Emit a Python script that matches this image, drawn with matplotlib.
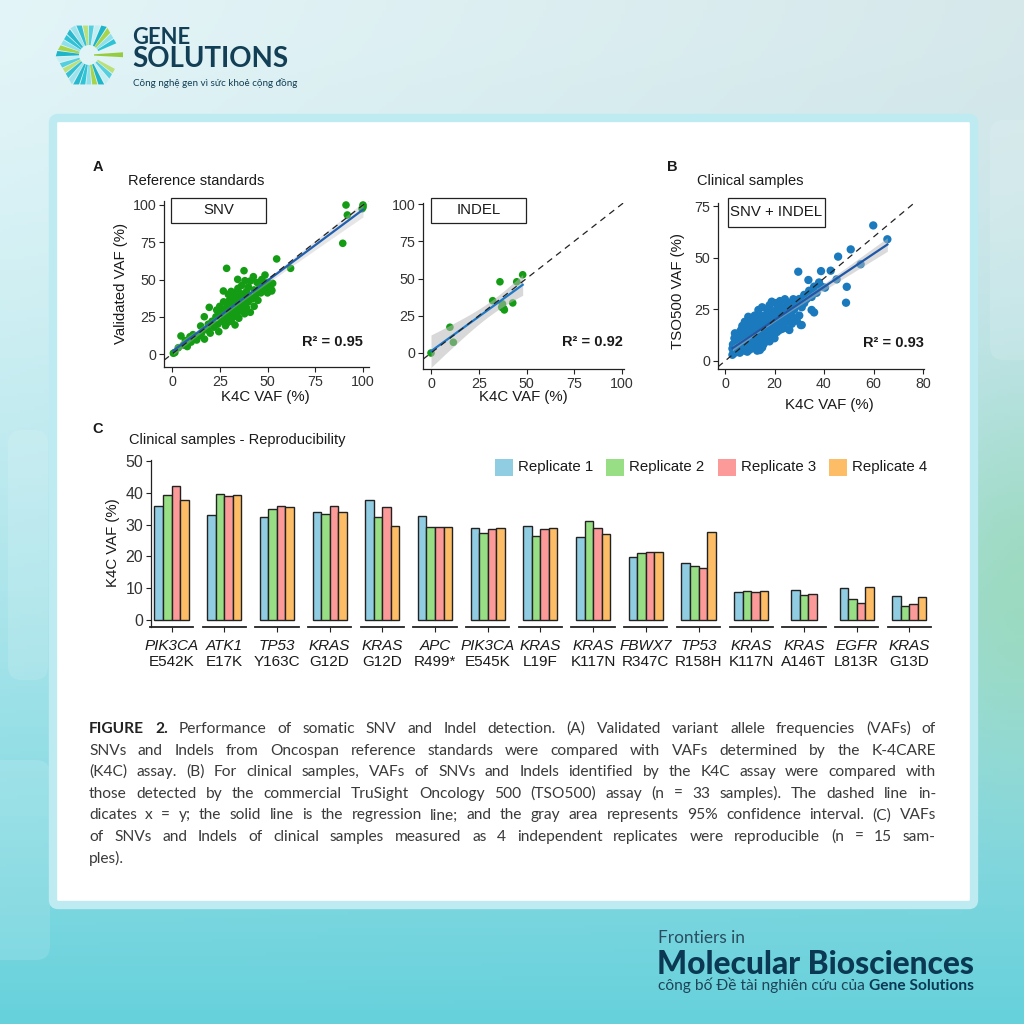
import numpy as np
import matplotlib
matplotlib.use("Agg")
import matplotlib.pyplot as plt
import matplotlib.transforms as mtransforms
from matplotlib.patches import Rectangle, FancyBboxPatch, Polygon
from matplotlib import font_manager
from matplotlib.font_manager import FontProperties

plt.rcParams["font.family"] = ["Liberation Sans", "DejaVu Sans"]

# ---------------- data ----------------
# Panel A - SNV (K4C VAF, validated VAF)
snv_x = [0.7, 1.5, 3.3, 4.7, 6, 7, 8, 9.4, 10, 11, 12.9, 14, 15, 15.5, 16.9, 17, 18.7,
         19.5, 19, 20, 21, 22, 23.4, 23, 24, 24.5, 25, 25, 26, 26.9, 27, 27, 27.5, 28,
         28.6, 28.6, 29, 29, 29.5, 30, 30, 30, 30.5, 31, 31, 31.5, 32, 32, 32.5, 33, 33,
         33, 33.5, 34, 34, 34.4, 34.5, 35, 35, 35, 35.5, 36, 36, 36.5, 37, 37, 37.7, 38,
         38.2, 38.5, 39, 39, 40, 40, 40.5, 41, 41, 42, 42.6, 43, 43, 44, 44.5, 45, 45, 46,
         46.5, 47, 48, 48.7, 49, 50, 50, 51, 52.2, 52.2, 52.7, 54.8, 62.1, 89.4, 91.1,
         91.8, 99.5, 100, 100]
snv_y = [0.5, 1.0, 4.2, 12.1, 6, 9, 5, 11.6, 8, 13, 9.4, 12, 18.8, 14, 25, 10, 16.1,
         31.3, 20, 14, 22, 18, 29.5, 25, 20, 15, 27, 32, 22, 42.3, 30, 35, 25, 19,
         20.6, 57.5, 33, 28, 40, 24, 36, 31, 27, 42, 22, 34, 29, 38, 25, 19.5, 33,
         41, 36, 27, 30, 50.1, 44, 32, 38, 24, 41, 35, 29, 46, 33, 39, 55.9, 27,
         49.2, 37, 42, 31, 35, 45, 39, 28, 49, 37, 51.9, 43, 32, 40, 48, 36, 42, 46,
         41, 50, 44, 53, 47, 41, 48, 45, 43, 42.3, 47.4, 63.8, 57.5, 74.3, 100,
         93.3, 97.5, 100, 98.5]

# Panel A - INDEL
indel_x = [0, 9.9, 11.7, 32.3, 36.1, 37, 37.4, 38.4, 38, 42.8, 44.9, 48]
indel_y = [0, 17.3, 7.2, 35.1, 47.8, 30.7, 33, 28.9, 30, 33.6, 47.8, 52.5]

# Panel B - clinical samples SNV + INDEL
clin_x = [3, 3.5, 4, 4, 4.5, 3.8, 4, 5, 5, 4.2, 5.5, 6, 6, 6, 6.5, 6.5, 7, 7, 7, 5.5,
          7.5, 8, 8, 8, 8, 8.5, 8.5, 9, 9, 9, 9.4, 9.5, 10, 10, 10, 10, 10.5, 11, 11, 11, 11,
          11.5, 12, 12, 12, 12, 12.1, 12.5, 12.5, 13, 13, 13, 13.5, 13.5, 14, 14, 14, 14,
          14.1, 14.5, 15, 15, 15, 15, 15.5, 16, 16, 16, 16.5, 17, 17, 17, 17.5, 18, 18, 18,
          18.9, 19, 19, 19.5, 20, 20, 20, 20.5, 21, 21, 22, 22, 22, 22.2, 23, 23, 24, 24,
          24.2, 24.5, 25, 25.5, 26, 26, 27, 27, 27.6, 28, 28.3, 29, 29, 30, 30.6, 31, 30,
          31, 32, 32, 33, 33.7, 34, 35, 35, 36, 36, 37, 38, 38.8, 39, 40.4, 29.6, 42.7,
          45.1, 45.7, 48.9, 49.2, 50.8, 54.8, 59.9, 65.6,
          3, 3.2, 5, 6.5, 7.5, 9, 10, 11.5, 13, 15, 16, 18, 20, 5, 6, 7, 8, 9, 10, 11, 12,
          13, 14, 15, 16, 17, 18, 19, 20, 21, 22, 23, 24, 25, 26, 27, 28, 20, 21, 23, 18,
          16, 14]
clin_y = [3, 5, 4, 7, 9, 11, 13.4, 6, 5.3, 8.5, 10, 4, 7.5, 12, 15, 9, 6, 11, 17, 13,
          8, 5, 10, 13, 19, 7, 15, 9, 12, 17, 21.4, 6, 8, 11, 14, 18, 10, 6.5, 13, 16, 20,
          9, 7, 11, 15, 22, 6.1, 13, 18, 9, 12, 20, 24.7, 15, 7, 10, 17, 22,
          5.3, 13, 11, 19, 26, 15, 8, 13, 17, 22, 10, 15, 20, 25, 12, 18, 27, 14,
          28.7, 16, 21, 12, 19, 24, 14, 28, 17, 22, 15, 20, 26, 29, 18, 23, 16, 21,
          29.9, 26, 19, 23, 15, 28, 18, 22, 29.9, 25, 19.8, 19.5, 27, 22, 17.4, 17.4, 30,
          26, 28, 32, 30, 39.2, 34, 24.7, 31, 36, 23.5, 33, 38, 43.5, 36, 35.5, 43.2, 43.7,
          39.5, 50.5, 28.2, 35.9, 54, 46.8, 65.6, 58.9,
          6, 8, 9, 5, 13, 4.5, 5.5, 18, 5, 6.5, 9, 9.5, 11, 11.5, 14, 9, 16, 14.5, 16, 11,
          9.5, 16, 12, 17, 15, 18, 21, 24, 17, 25, 23, 26, 24, 27, 21, 26, 28, 21, 14,
          15.5, 24, 19.5, 19]

# Panel C - reproducibility
genes = ["PIK3CA", "ATK1", "TP53", "KRAS", "KRAS", "APC", "PIK3CA", "KRAS", "KRAS",
         "FBWX7", "TP53", "KRAS", "KRAS", "EGFR", "KRAS"]
variants = ["E542K", "E17K", "Y163C", "G12D", "G12D", "R499*", "E545K", "L19F", "K117N",
            "R347C", "R158H", "K117N", "A146T", "L813R", "G13D"]
rep1 = [36.0, 32.9, 32.4, 34.1, 37.8, 32.7, 29.0, 29.6, 26.1, 19.8, 17.9, 8.7, 9.3, 10.0, 7.4]
rep2 = [39.3, 39.5, 35.0, 33.4, 32.3, 29.3, 27.5, 26.3, 31.0, 21.0, 17.0, 9.1, 7.8, 6.5, 4.3]
rep3 = [42.0, 39.1, 36.0, 35.7, 35.4, 29.1, 28.5, 28.7, 28.8, 21.3, 16.4, 8.8, 8.1, 5.3, 4.9]
rep4 = [37.8, 39.2, 35.4, 34.1, 29.7, 29.3, 28.9, 28.8, 26.9, 21.5, 27.7, 9.1, np.nan, 10.4, 7.1]
rep_names = ["Replicate 1", "Replicate 2", "Replicate 3", "Replicate 4"]
rep_colors = ["#90cde2", "#98de84", "#fb9a98", "#fdbd66"]

caption = [
    "FIGURE 2. Performance of somatic SNV and Indel detection. (A) Validated variant allele frequencies (VAFs) of",
    "SNVs and Indels from Oncospan reference standards were compared with VAFs determined by the K-4CARE",
    "(K4C) assay. (B) For clinical samples, VAFs of SNVs and Indels identified by the K4C assay were compared with",
    "those detected by the commercial TruSight Oncology 500 (TSO500) assay (n = 33 samples). The dashed line in-",
    "dicates x = y; the solid line is the regression line; and the gray area represents 95% confidence interval. (C) VAFs",
    "of SNVs and Indels of clinical samples measured as 4 independent replicates were reproducible (n = 15 sam-",
    "ples).",
]

# ---------------- canvas ----------------
W = H = 1024
fig = plt.figure(figsize=(10.24, 10.24), dpi=100)
bg = fig.add_axes([0, 0, 1, 1])
bg.set_xlim(0, W)
bg.set_ylim(H, 0)
bg.axis("off")
renderer = fig.canvas.get_renderer()

yy = np.linspace(0, 1, 300)[:, None]
xx = np.linspace(0, 1, 300)[None, :]
top = np.array([0.89, 0.96, 0.97])
bottom = np.array([0.40, 0.82, 0.86])
t = (yy ** 1.5) * np.ones_like(xx)
img = top * (1 - t)[..., None] + bottom * t[..., None]
img -= 0.05 * (xx * (1 - t))[..., None]
blob = np.exp(-((xx - 1.0) ** 2 / 0.01 + (yy - 0.58) ** 2 / 0.03))
img += blob[..., None] * (np.array([0.60, 0.85, 0.70]) - img) * 0.7
bg.imshow(np.clip(img, 0, 1), extent=[0, W, H, 0], aspect="auto", zorder=0)

# faint decorative shapes
for (x0, y0, w0, h0) in [(8, 430, 40, 250), (-20, 760, 70, 200), (990, 120, 60, 240)]:
    bg.add_patch(FancyBboxPatch((x0, y0), w0, h0, boxstyle="round,pad=0,rounding_size=14",
                                fc="white", ec="none", alpha=0.12, zorder=0.5))

# white card
bg.add_patch(FancyBboxPatch((53, 118), 921, 787, boxstyle="round,pad=0,rounding_size=5",
                            fc="white", ec="#bdebf1", lw=6, zorder=1))


def has_font(name):
    try:
        font_manager.findfont(FontProperties(family=name), fallback_to_default=False)
        return True
    except Exception:
        return False


def measure(s, size, family, weight="normal"):
    tt = bg.text(0, 0, s, fontsize=size, family=family, weight=weight)
    w = tt.get_window_extent(renderer).width
    tt.remove()
    return w


def fit_text(x, y, s, width, size, **kw):
    txt = bg.text(x, y, s, fontsize=size, **kw)
    w = txt.get_window_extent(renderer).width
    txt.set_fontsize(size * width / w)
    return txt


# ---------------- logo ----------------
cx, cy = 89, 55
R_out, R_in = 34, 10
stripe_cols = ["#2fc3d6", "#8fe0ea", "#a6d44a", "#1fb5c9", "#c5eef3", "#54cfdf", "#b9e07a",
               "#35bfd3", "#9ee3ec", "#2ab8cc"]
angles = np.arange(28, 332, 11.5)
for k, a in enumerate(angles):
    pts = []
    for da, rr in [(-4.8, "in"), (4.8, "in"), (4.8, "out"), (-4.8, "out")]:
        ang = np.deg2rad(a + da)
        if rr == "out":
            m = (a + da) % 60 - 30
            r = R_out * np.cos(np.deg2rad(30)) / np.cos(np.deg2rad(m))
        else:
            r = R_in
        pts.append((cx + r * np.cos(ang), cy - r * np.sin(ang)))
    bg.add_patch(Polygon(pts, closed=True, fc=stripe_cols[k % len(stripe_cols)], ec="none", zorder=2))
bg.add_patch(Polygon([(94, 54.3), (123, 52.3), (123, 57.2), (94, 55.6)], closed=True,
                     fc="#96cc3e", ec="none", zorder=2))

navy = "#123f55"
lato = ["Lato", "DejaVu Sans"]
fit_text(132, 43.5, "GENE", 58, 17, family=lato, weight="bold", color=navy,
         va="baseline", zorder=3)
fit_text(132, 67, "SOLUTIONS", 156, 17, family=lato, weight="bold", color=navy,
         va="baseline", zorder=3)
bg.text(133, 86, "Công nghệ gen vì sức khoẻ cộng đồng", fontsize=7.1,
        family=lato, color=navy, va="baseline", zorder=3)

# ---------------- footer ----------------
fit_text(658, 943, "Frontiers in", 87, 11, family=lato, color="#2a4d60",
         va="baseline", zorder=3)
fit_text(657, 973.5, "Molecular Biosciences", 318, 20, family=lato, weight="black",
         color="#0b3954", va="baseline", zorder=3)
t1 = bg.text(658, 990, "công bố Đề tài nghiên cứu của ", fontsize=11.2,
             family=lato, color="#1e4458", va="baseline", zorder=3)
w1 = t1.get_window_extent(renderer).width
bg.text(658 + w1, 990, "Gene Solutions", fontsize=11.2, family=lato,
        weight="bold", color="#0b3954", va="baseline", zorder=3)

# ---------------- caption (justified, one text per word) ----------------
narrow = has_font("Liberation Sans Narrow")
cap_font = ["Liberation Sans Narrow", "DejaVu Sans"] if narrow else lato
cap_x0, cap_x1 = 89, 936
cap_size = 14.0 if narrow else 11.2

def line_natural(size):
    sp = measure("a a", size, cap_font) - measure("aa", size, cap_font)
    out = []
    for li, line in enumerate(caption):
        words = line.split(" ")
        wts = ["bold" if (li == 0 and wi < 2) else "normal" for wi in range(len(words))]
        out.append(sum(measure(w, size, cap_font, wt) for w, wt in zip(words, wts))
                   + sp * (len(words) - 1))
    return out

nat = line_natural(cap_size)
if max(nat) > (cap_x1 - cap_x0):
    cap_size *= (cap_x1 - cap_x0) / max(nat) * 0.99
space_w = measure("a a", cap_size, cap_font) - measure("aa", cap_size, cap_font)

for li, line in enumerate(caption):
    yb = 733 + li * 21.6
    words = line.split(" ")
    weights = ["bold" if (li == 0 and wi < 2) else "normal" for wi in range(len(words))]
    widths = [measure(w, cap_size, cap_font, wt) for w, wt in zip(words, weights)]
    if li < len(caption) - 1:
        gap = (cap_x1 - cap_x0 - sum(widths)) / (len(words) - 1)
    else:
        gap = space_w
    xpos = cap_x0
    for w, wt, wd in zip(words, weights, widths):
        bg.text(xpos, yb, w, fontsize=cap_size, family=cap_font, weight=wt,
                color="#3a3a3a" if wt == "normal" else "#222222", va="baseline", zorder=3)
        xpos += wd + gap


# ---------------- plot panels ----------------
def panel_axes(box, xcal, ycal):
    l, tp, r, b = box
    (px0, v0), (px1, v1) = xcal
    sxp = (px1 - px0) / (v1 - v0)
    (py0, w0), (py1, w1_) = ycal
    syp = (py0 - py1) / (w1_ - w0)
    ax = fig.add_axes([l / W, 1 - b / H, (r - l) / W, (b - tp) / H])
    ax.set_xlim(v0 + (l - px0) / sxp, v0 + (r - px0) / sxp)
    ax.set_ylim(w0 + (py0 - b) / syp, w0 + (py0 - tp) / syp)
    ax.patch.set_alpha(0)
    for s in ["top", "right"]:
        ax.spines[s].set_visible(False)
    for s in ["left", "bottom"]:
        ax.spines[s].set_color("#222222")
        ax.spines[s].set_linewidth(0.9)
    ax.tick_params(direction="out", length=3.5, width=0.8, colors="#222222",
                   labelsize=10.3, labelcolor="#333333", pad=2)
    return ax


def scatter_panel(ax, x, y, color, size, line_color, tval, band_alpha):
    x = np.asarray(x, float)
    y = np.asarray(y, float)
    ax.scatter(x, y, s=size, color=color, edgecolors="none", zorder=2, clip_on=False)
    slope, inter = np.polyfit(x, y, 1)
    xs = np.linspace(x.min(), x.max(), 100)
    fit = slope * xs + inter
    n = len(x)
    s_err = np.sqrt(np.sum((y - (slope * x + inter)) ** 2) / (n - 2))
    se = s_err * np.sqrt(1 / n + (xs - x.mean()) ** 2 / np.sum((x - x.mean()) ** 2))
    ax.fill_between(xs, fit - tval * se, fit + tval * se, color="#b8b8b8", alpha=band_alpha,
                    lw=0, zorder=3)
    ax.plot(xs, fit, color=line_color, lw=1.6, zorder=4)
    ax.axline((0, 0), slope=1, color="#222222", lw=0.9, ls=(0, (5, 4)), zorder=5)


ax1 = panel_axes((164, 201, 369, 367), ((172, 0), (363, 100)), ((354, 0), (205, 100)))
scatter_panel(ax1, snv_x, snv_y, "#149c14", 30, "#2160b0", 1.98, 0.35)
ax1.set_xticks([0, 25, 50, 75, 100])
ax1.set_yticks([0, 25, 50, 75, 100])

ax2 = panel_axes((423, 203, 624, 369), ((431, 0), (622, 100)), ((353, 0), (204, 100)))
scatter_panel(ax2, indel_x, indel_y, "#149c14", 30, "#1f78c8", 2.23, 0.55)
ax2.set_xticks([0, 25, 50, 75, 100])
ax2.set_yticks([0, 25, 50, 75, 100])

ax3 = panel_axes((718, 203, 924, 369), ((725, 0), (923, 80)), ((361, 0), (206, 75)))
scatter_panel(ax3, clin_x, clin_y, "#1a7abd", 36, "#1f58a8", 1.97, 0.5)
ax3.set_xticks([0, 20, 40, 60, 80])
ax3.set_yticks([0, 25, 50, 75])

# panel labels and titles
lab = dict(color="#1a1a1a", zorder=3)
bg.text(98, 167, "A", fontsize=10.5, weight="bold", ha="center", va="center", **lab)
bg.text(672, 167, "B", fontsize=10.5, weight="bold", ha="center", va="center", **lab)
bg.text(98, 429, "C", fontsize=10.5, weight="bold", ha="center", va="center", **lab)
bg.text(128, 181, "Reference standards", fontsize=10.5, va="center", **lab)
bg.text(697, 181, "Clinical samples", fontsize=10.5, va="center", **lab)
bg.text(129, 440, "Clinical samples - Reproducibility", fontsize=10.5, va="center", **lab)

bg.text(265, 397, "K4C VAF (%)", fontsize=10.8, ha="center", va="center", **lab)
bg.text(523, 397, "K4C VAF (%)", fontsize=10.8, ha="center", va="center", **lab)
bg.text(829, 405, "K4C VAF (%)", fontsize=10.8, ha="center", va="center", **lab)
bg.text(121, 283, "Validated VAF (%)", fontsize=10.8, rotation=90, ha="center", va="center", **lab)
bg.text(678, 291, "TSO500 VAF (%)", fontsize=10.8, rotation=90, ha="center", va="center", **lab)
bg.text(113, 543, "K4C VAF (%)", fontsize=10.8, rotation=90, ha="center", va="center", **lab)

for (x0, y0, x1, y1, s) in [(171, 198, 266, 223, "SNV"), (431, 198, 526, 223, "INDEL"),
                            (728, 198, 825, 227, "SNV + INDEL")]:
    bg.add_patch(Rectangle((x0, y0), x1 - x0, y1 - y0, fc="white", ec="#222222", lw=0.9, zorder=3))
    bg.text((x0 + x1) / 2, (y0 + y1) / 2, s, fontsize=10.8, ha="center", va="center", **lab)

for (xr, yc, s) in [(363, 342, "R² = 0.95"), (623, 342, "R² = 0.92"), (924, 343, "R² = 0.93")]:
    bg.text(xr, yc, s, fontsize=10.5, weight="bold", ha="right", va="center", **lab)

# ---------------- panel C ----------------
axc = panel_axes((151, 460, 932, 627), ((171.5, 0), (909.3, 14)), ((620, 0), (461, 50)))
axc.spines["bottom"].set_visible(False)
axc.set_yticks([0, 10, 20, 30, 40, 50])
axc.tick_params(axis="y", labelsize=11.5)
axc.set_xticks(np.arange(len(genes)))
axc.set_xticklabels([])
axc.tick_params(axis="x", length=3.5)

bw = 0.162
reps = [rep1, rep2, rep3, rep4]
for i in range(len(genes)):
    present = [j for j in range(4) if not np.isnan(reps[j][i])]
    k = len(present)
    for pos, j in enumerate(present):
        xc = i + (pos - (k - 1) / 2) * bw
        axc.bar(xc, reps[j][i], width=bw, color=rep_colors[j], edgecolor="#222222",
                linewidth=1.0, zorder=2)
    axc.plot([i - 0.41, i + 0.41], [0, 0], transform=axc.get_xaxis_transform(),
             color="#222222", lw=1.3, clip_on=False, zorder=3)

xy_mix = mtransforms.blended_transform_factory(axc.transData, bg.transData)
for i, (g, v) in enumerate(zip(genes, variants)):
    axc.text(i, 645.5, g, transform=xy_mix, fontsize=11, style="italic", ha="center",
             va="center", color="#1a1a1a")
    axc.text(i, 662.5, v, transform=xy_mix, fontsize=11, ha="center", va="center",
             color="#1a1a1a")

# legend
for k, (name, col) in enumerate(zip(rep_names, rep_colors)):
    x0 = 495 + k * 111.3
    bg.add_patch(Rectangle((x0, 459), 18, 17, fc=col, ec="none", zorder=3))
    bg.text(x0 + 23, 467.5, name, fontsize=10.8, va="center", **lab)

fig.savefig("out.png", dpi=100)
